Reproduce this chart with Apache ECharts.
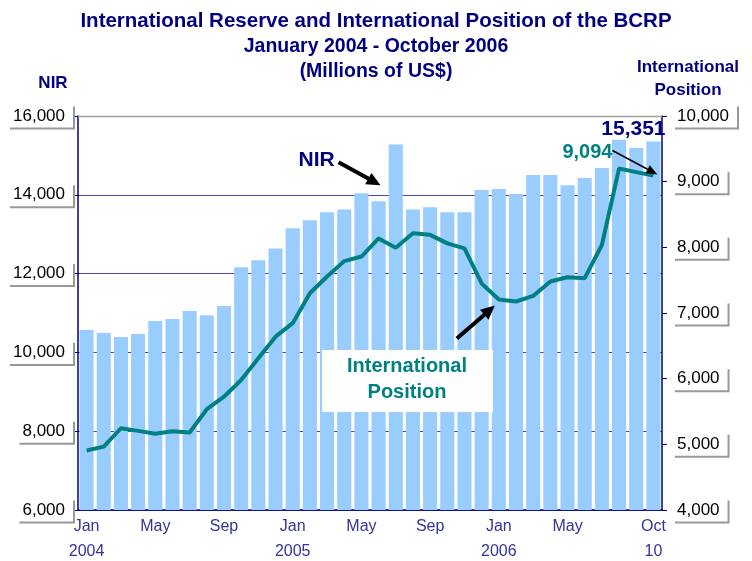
<!DOCTYPE html>
<html>
<head>
<meta charset="utf-8">
<script src="https://cdn.jsdelivr.net/npm/echarts@6/dist/echarts.min.js"></script>
<style>
  html, body { margin: 0; padding: 0; background: #fff; }
  #chart { width: 752px; height: 561px; }
</style>
</head>
<body>
<div id="chart"></div>
<script>
// Jan 2004 - Oct 2006, one entry per month
const categories = [
  'Jan\n2004', 'Feb', 'Mar', 'Apr', 'May', 'Jun', 'Jul', 'Aug', 'Sep', 'Oct', 'Nov', 'Dec',
  'Jan\n2005', 'Feb', 'Mar', 'Apr', 'May', 'Jun', 'Jul', 'Aug', 'Sep', 'Oct', 'Nov', 'Dec',
  'Jan\n2006', 'Feb', 'Mar', 'Apr', 'May', 'Jun', 'Jul', 'Aug', 'Sep', 'Oct\n10'
]
// NIR (left axis), millions of US$
const nir = [
  10570, 10490, 10390, 10465, 10795, 10845, 11050, 10945, 11175, 12160, 12340, 12640,
  13150, 13355, 13555, 13630, 14040, 13835, 15275, 13630, 13685, 13555, 13555, 14120,
  14145, 14020, 14500, 14500, 14245, 14425, 14680, 15395, 15185, 15351
]
// International position (right axis), millions of US$
const intlPosition = [
  4905, 4965, 5245, 5205, 5160, 5200, 5180, 5535, 5725, 5980, 6310, 6640,
  6845, 7300, 7555, 7790, 7860, 8135, 7995, 8215, 8190, 8060, 7985, 7450,
  7205, 7175, 7260, 7480, 7545, 7530, 8035, 9200, 9145, 9094
]
const shownTicks = [0, 4, 8, 12, 16, 20, 24, 28, 33]

const navy = '#000080'
const teal = '#008080'
const gridBlue = '#4646b4'
const fmt = (v) => Number(v).toLocaleString('en-US')
const font = 'Liberation Sans, Arial, sans-serif'

const boxLabel = {
  color: '#000',
  fontSize: 17,
  fontFamily: font,
  backgroundColor: '#fff',
  shadowColor: '#999',
  shadowOffsetX: 2,
  shadowOffsetY: 2,
  shadowBlur: 0,
  formatter: fmt
}

const chart = echarts.init(document.getElementById('chart'))

chart.setOption({
  animation: false,
  title: {
    text: 'International Reserve and International Position of the BCRP',
    subtext: 'January 2004 - October 2006\n(Millions of US$)',
    left: 'center',
    top: 6,
    itemGap: 2,
    textStyle: { color: navy, fontSize: 20.5, fontWeight: 'bold', fontFamily: font },
    subtextStyle: { color: navy, fontSize: 19.5, fontWeight: 'bold', fontFamily: font, lineHeight: 25 }
  },
  grid: { left: 78, right: 90, top: 116, bottom: 51, containLabel: false, outerBoundsMode: 'none' },
  xAxis: {
    type: 'category',
    data: categories,
    axisLine: { lineStyle: { color: navy, width: 1.5 } },
    axisTick: { alignWithLabel: false, interval: 0, length: 5, lineStyle: { color: navy } },
    axisLabel: {
      interval: (i) => shownTicks.includes(i),
      color: '#333399',
      fontSize: 16,
      fontFamily: font,
      lineHeight: 25,
      margin: 4
    }
  },
  yAxis: [
    {
      type: 'value',
      min: 6000,
      max: 16000,
      interval: 2000,
      name: 'NIR',
      nameLocation: 'end',
      nameGap: 24,
      nameTextStyle: { color: navy, fontSize: 17, fontWeight: 'bold', fontFamily: font, align: 'center', padding: [0, 50, 0, 0] },
      axisLine: { show: true, lineStyle: { color: navy, width: 1.5 } },
      axisTick: { show: true, length: 5, lineStyle: { color: navy } },
      axisLabel: Object.assign({}, boxLabel, { margin: 5, padding: [3, 8, 3, 5] }),
      splitLine: { lineStyle: { color: gridBlue, width: 1 } }
    },
    {
      type: 'value',
      min: 4000,
      max: 10000,
      interval: 1000,
      name: 'International\nPosition',
      nameLocation: 'end',
      nameGap: 14,
      nameTextStyle: { color: navy, fontSize: 17, fontWeight: 'bold', fontFamily: font, align: 'center', lineHeight: 23, padding: [0, 0, 0, 52] },
      axisLine: { show: true, lineStyle: { color: navy, width: 1.5 } },
      axisTick: { show: true, length: 5, lineStyle: { color: navy } },
      axisLabel: Object.assign({}, boxLabel, { margin: 11, padding: [3, 8, 3, 4] }),
      splitLine: { show: false }
    }
  ],
  series: [
    {
      name: 'NIR',
      type: 'bar',
      data: nir.map((v, i) => i === nir.length - 1 ? {
        value: v,
        label: {
          show: true,
          position: 'top',
          distance: 2,
          offset: [-20, 0],
          formatter: (p) => fmt(p.value),
          color: navy,
          fontSize: 21,
          fontWeight: 'bold',
          fontFamily: font
        }
      } : v),
      barCategoryGap: '18%',
      itemStyle: { color: '#99CCFF' },
      z: 2
    },
    {
      name: 'International Position',
      type: 'line',
      yAxisIndex: 1,
      data: intlPosition.map((v, i) => i === intlPosition.length - 1 ? {
        value: v,
        symbol: 'circle',
        symbolSize: 0.1,
        label: {
          show: true,
          position: 'top',
          offset: [-66, -8],
          formatter: (p) => fmt(p.value),
          color: teal,
          fontSize: 20,
          fontWeight: 'bold',
          fontFamily: font
        }
      } : v),
      showSymbol: true,
      symbol: 'none',
      lineStyle: { color: teal, width: 4 },
      itemStyle: { color: teal },
      z: 4
    }
  ]
})

// arrows and callouts, anchored to the data points
function arrow(tail, tip, width, headLen, headWidth) {
  const dx = tip[0] - tail[0]
  const dy = tip[1] - tail[1]
  const len = Math.sqrt(dx * dx + dy * dy)
  const ux = dx / len
  const uy = dy / len
  const bx = tip[0] - ux * headLen
  const by = tip[1] - uy * headLen
  return [
    {
      type: 'line',
      z: 100,
      shape: { x1: tail[0], y1: tail[1], x2: bx + ux * 2, y2: by + uy * 2 },
      style: { stroke: '#000', lineWidth: width }
    },
    {
      type: 'polygon',
      z: 100,
      shape: {
        points: [
          tip,
          [bx - uy * headWidth / 2, by + ux * headWidth / 2],
          [bx + uy * headWidth / 2, by - ux * headWidth / 2]
        ]
      },
      style: { fill: '#000' }
    }
  ]
}

const nirPt = chart.convertToPixel({ xAxisIndex: 0, yAxisIndex: 0 }, [17, nir[17]])
const posPt = chart.convertToPixel({ xAxisIndex: 0, yAxisIndex: 1 }, [24, intlPosition[24]])
const lastPt = chart.convertToPixel({ xAxisIndex: 0, yAxisIndex: 1 }, [33, intlPosition[33]])
const topLeft = chart.convertToPixel({ xAxisIndex: 0, yAxisIndex: 0 }, [0, 16000])

const nirTip = [nirPt[0] + 2, nirPt[1] - 16]
const posTip = [posPt[0] - 4, posPt[1] + 6]
const lastTip = [lastPt[0] + 4, lastPt[1] - 1]

chart.setOption({
  graphic: [
    // grey top border of the plot area
    {
      type: 'line',
      z: 3,
      shape: { x1: 78, y1: Math.round(topLeft[1]) + 0.5, x2: 662, y2: Math.round(topLeft[1]) + 0.5 },
      style: { stroke: '#a0a0a0', lineWidth: 1.5 }
    },
    {
      type: 'text',
      z: 100,
      style: {
        text: 'NIR',
        x: nirTip[0] - 64,
        y: nirTip[1] - 25,
        textAlign: 'center',
        textVerticalAlign: 'middle',
        fill: navy,
        font: 'bold 21px ' + font
      }
    },
    ...arrow([nirTip[0] - 42, nirTip[1] - 23], nirTip, 4, 14, 13),
    {
      type: 'rect',
      z: 90,
      shape: { x: 322, y: 350, width: 171, height: 62 },
      style: { fill: '#fff' }
    },
    {
      type: 'text',
      z: 100,
      style: {
        text: 'International\nPosition',
        x: 407,
        y: 379,
        textAlign: 'center',
        textVerticalAlign: 'middle',
        lineHeight: 26,
        fill: teal,
        font: 'bold 20px ' + font
      }
    },
    ...arrow([posTip[0] - 38, posTip[1] + 33], posTip, 4, 14, 13),
    ...arrow([lastTip[0] - 45, lastTip[1] - 24], lastTip, 1.5, 11, 9)
  ]
})
</script>
</body>
</html>
